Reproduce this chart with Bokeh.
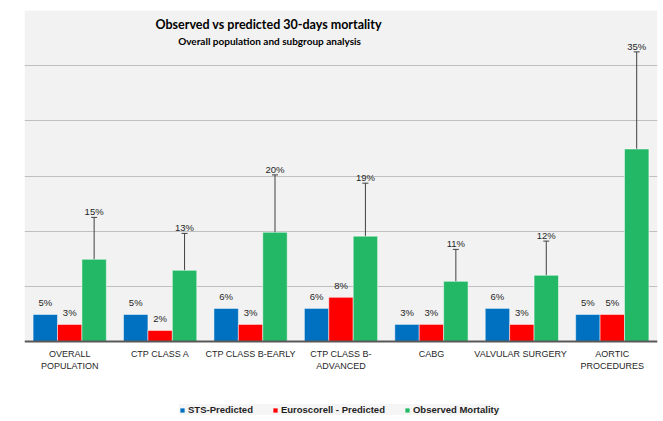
from bokeh.plotting import figure
from bokeh.models import (ColumnDataSource, Label, Legend, LegendItem, Whisker,
                          TeeHead, FixedTicker, Range1d)
from bokeh.core.properties import value
from bokeh.embed import file_html
from bokeh.resources import INLINE

categories = ["OVERALL\nPOPULATION", "CTP CLASS A", "CTP CLASS B-EARLY",
              "CTP CLASS B-\nADVANCED", "CABG", "VALVULAR  SURGERY",
              "AORTIC\nPROCEDURES"]
sts_pred = [4.9, 4.9, 6.0, 6.0, 3.1, 6.0, 4.9]
euro_pred = [3.1, 2.0, 3.1, 8.0, 3.1, 3.1, 4.9]
observed = [14.9, 12.9, 19.8, 19.1, 10.9, 12.0, 34.9]
obs_upper = [22.5, 19.6, 30.2, 28.7, 16.7, 18.2, 52.5]
obs_lower = [7.6, 6.5, 10.0, 9.6, 5.5, 6.0, 17.6]
sts_labels = ["5%", "5%", "6%", "6%", "3%", "6%", "5%"]
euro_labels = ["3%", "2%", "3%", "8%", "3%", "3%", "5%"]
obs_labels = ["15%", "13%", "20%", "19%", "11%", "12%", "35%"]
series_names = ["STS-Predicted", "Euroscorell - Predicted", "Observed Mortality"]

BLUE, RED, GREEN = "#0070c0", "#ff0000", "#23b866"
FONT = "Liberation Sans"
off = 0.27
bw = 0.27
idx = list(range(len(categories)))
Y_TOP = 60

p = figure(width=663, height=421, output_backend="svg", toolbar_location=None,
           x_range=Range1d(-0.5, 6.5), y_range=Range1d(-14.5, Y_TOP))
p.min_border_left = 24
p.min_border_right = 6
p.min_border_top = 10
p.min_border_bottom = 0
p.background_fill_color = "white"
p.border_fill_color = "white"
p.outline_line_color = None

# gray plot-area fill above the baseline (drawn beneath the grid)
p.quad(left=[-0.5], right=[6.5], bottom=[0], top=[Y_TOP], fill_color="#f2f2f2",
       line_color=None, level="image")

src = ColumnDataSource(dict(
    x=idx,
    xb=[i - off for i in idx], xr=idx, xg=[i + off for i in idx],
    sts=sts_pred, euro=euro_pred, obs=observed,
    up=obs_upper, lo=obs_lower,
    sl=sts_labels, el=euro_labels, ol=obs_labels,
))

r1 = p.vbar(x="xb", top="sts", width=bw, source=src, fill_color=BLUE, line_color="white", line_width=0.5)
r2 = p.vbar(x="xr", top="euro", width=bw, source=src, fill_color=RED, line_color="white", line_width=0.5)
r3 = p.vbar(x="xg", top="obs", width=bw, source=src, fill_color=GREEN, line_color="white", line_width=0.5)

w = Whisker(source=src, base="xg", upper="up", lower="lo", dimension="height",
            line_color="#404040", line_width=1,
            upper_head=TeeHead(size=6, line_color="#404040", line_width=1),
            lower_head=TeeHead(size=6, line_color="#404040", line_width=1))
p.add_layout(w)

lab_kw = dict(text_align="center", text_baseline="bottom", text_font_size="9.5px",
              text_color="#1f1f1f", text_font=value(FONT))
p.text(x="xb", y="sts", text="sl", source=src, y_offset=-6, **lab_kw)
p.text(x="xr", y="euro", text="el", source=src, y_offset=-6, **lab_kw)
p.text(x="xg", y="up", text="ol", source=src, y_offset=0, **lab_kw)

# axes / grid
p.yaxis.visible = False
p.ygrid.ticker = FixedTicker(ticks=[10, 20, 30, 40, 50])
p.ygrid.grid_line_color = "#bfbfbf"
p.ygrid.grid_line_width = 1
p.xgrid.visible = False
p.xaxis.fixed_location = 0
p.xaxis.ticker = FixedTicker(ticks=idx)
p.xaxis.major_label_overrides = {i: c for i, c in zip(idx, categories)}
p.xaxis.major_tick_line_color = None
p.xaxis.minor_tick_line_color = None
p.xaxis.axis_line_color = "#595959"
p.xaxis.axis_line_width = 2
p.xaxis.major_label_text_font = FONT
p.xaxis.major_label_text_font_size = "9px"
p.xaxis.major_label_text_color = "#1f1f1f"
p.xaxis.major_label_standoff = 1

# titles
p.add_layout(Label(x=2.2, y=57.4, text="Observed vs predicted 30-days mortality",
                   text_align="center", text_baseline="middle", text_font="Lato",
                   text_font_style="bold", text_font_size="12.5px", text_color="#000000"))
p.add_layout(Label(x=2.21, y=54.4, text="Overall population and subgroup analysis",
                   text_align="center", text_baseline="middle", text_font="Lato",
                   text_font_style="bold", text_font_size="10px", text_color="#000000"))

legend = Legend(items=[LegendItem(label=series_names[0], renderers=[r1]),
                       LegendItem(label=series_names[1], renderers=[r2]),
                       LegendItem(label=series_names[2], renderers=[r3])],
                location=(155, 6), orientation="horizontal",
                glyph_width=6, glyph_height=6, label_standoff=3, spacing=19,
                padding=3, margin=0, label_height=10,
                background_fill_color="#f5f5f5", background_fill_alpha=1,
                border_line_color=None,
                label_text_font=FONT, label_text_font_style="bold",
                label_text_font_size="9.5px", label_text_color="#1f1f1f")
p.add_layout(legend, "center")

open("out.html", "w").write(file_html(p, INLINE))
